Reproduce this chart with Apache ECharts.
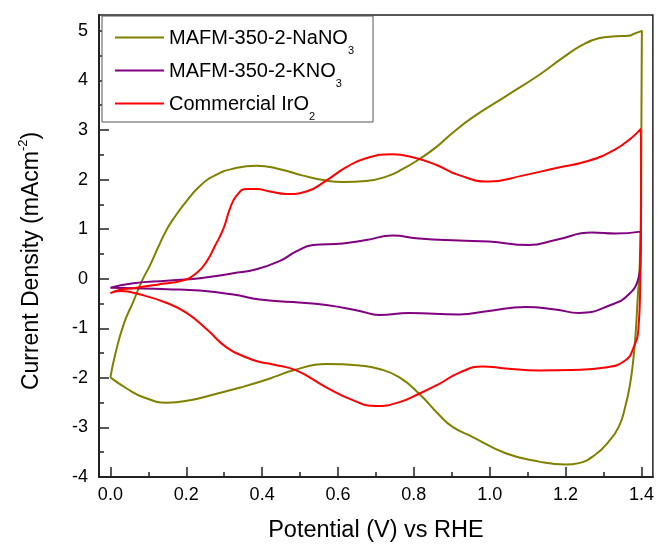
<!DOCTYPE html>
<html>
<head>
<meta charset="utf-8">
<script src="https://cdn.jsdelivr.net/npm/echarts@6.0.0/dist/echarts.min.js"></script>
<style>
    html, body { margin: 0; padding: 0; background: #fff; }
    #cv { width: 657px; height: 548px; }
</style>
</head>
<body>
<div id="cv"></div>
<script>
// 图例名称
var names = ['MAFM-350-2-NaNO3', 'MAFM-350-2-KNO3', 'Commercial IrO2'];
var colors = ['#808000', '#800080', '#ff0000'];

// 坐标轴刻度
var xTicks = [0, 0.2, 0.4, 0.6, 0.8, 1.0, 1.2, 1.4];
var xMinorTicks = [0.1, 0.3, 0.5, 0.7, 0.9, 1.1, 1.3];
var yTicks = [-4, -3, -2, -1, 0, 1, 2, 3, 4, 5];
var yMinorTicks = [-3.5, -2.5, -1.5, -0.5, 0.5, 1.5, 2.5, 3.5, 4.5];

// NaNO3: 正扫 / 回扫
var naForward = [[0, -1.99], [0.013, -1.52], [0.035, -0.92], [0.061, -0.45], [0.083, -0.05], [0.105, 0.28],
    [0.125, 0.62], [0.149, 1.0], [0.172, 1.27], [0.193, 1.49], [0.236, 1.87], [0.28, 2.1], [0.324, 2.22],
    [0.385, 2.28], [0.447, 2.21], [0.508, 2.08], [0.569, 1.98], [0.613, 1.95], [0.674, 1.97], [0.727, 2.06],
    [0.77, 2.21], [0.814, 2.41], [0.858, 2.65], [0.9, 2.93], [0.954, 3.25], [1.042, 3.68], [1.13, 4.11],
    [1.191, 4.45], [1.243, 4.71], [1.287, 4.85], [1.331, 4.89], [1.366, 4.9], [1.383, 4.95], [1.401, 5.0]];
var naReverse = [[1.4, 3.5], [1.398, 1.0], [1.395, 0.2], [1.39, -0.39], [1.385, -1.05], [1.379, -1.59],
    [1.37, -2.12], [1.357, -2.59], [1.34, -2.99], [1.313, -3.29], [1.278, -3.55], [1.235, -3.72], [1.2, -3.75],
    [1.13, -3.69], [1.042, -3.52], [0.954, -3.19], [0.902, -2.99], [0.867, -2.75], [0.814, -2.32],
    [0.762, -1.99], [0.709, -1.82], [0.657, -1.75], [0.569, -1.72], [0.481, -1.85], [0.44, -1.96],
    [0.394, -2.08], [0.34, -2.2], [0.28, -2.32], [0.21, -2.45], [0.149, -2.5], [0.087, -2.39],
    [0.044, -2.22], [0, -1.99]];

// KNO3
var kForward = [[0, -0.18], [0.061, -0.09], [0.149, -0.04], [0.236, 0.01], [0.324, 0.11], [0.385, 0.19],
    [0.447, 0.36], [0.49, 0.55], [0.534, 0.68], [0.613, 0.71], [0.674, 0.78], [0.744, 0.87], [0.814, 0.81],
    [0.919, 0.77], [0.998, 0.75], [1.103, 0.68], [1.173, 0.78], [1.27, 0.93], [1.331, 0.91], [1.398, 0.95]];
var kReverse = [[1.397, 0.3], [1.392, 0.01], [1.366, -0.32], [1.322, -0.52], [1.235, -0.69], [1.173, -0.62],
    [1.094, -0.57], [0.998, -0.65], [0.919, -0.72], [0.788, -0.69], [0.709, -0.73], [0.657, -0.65],
    [0.569, -0.53], [0.481, -0.47], [0.394, -0.42], [0.324, -0.32], [0.236, -0.24], [0.149, -0.21],
    [0.061, -0.19], [0, -0.18]];

// IrO2
var irForward = [[0, -0.29], [0.026, -0.22], [0.061, -0.19], [0.123, -0.12], [0.193, -0.03], [0.228, 0.12],
    [0.254, 0.35], [0.275, 0.65], [0.298, 1.01], [0.315, 1.41], [0.333, 1.68], [0.359, 1.81], [0.385, 1.81],
    [0.42, 1.76], [0.464, 1.71], [0.517, 1.76], [0.569, 1.98], [0.622, 2.25], [0.674, 2.43], [0.744, 2.51],
    [0.797, 2.45], [0.858, 2.3], [0.919, 2.09], [0.998, 1.96], [1.086, 2.08], [1.173, 2.23], [1.261, 2.38],
    [1.331, 2.61], [1.375, 2.85], [1.398, 3.02]];
var irReverse = [[1.399, 1.5], [1.397, 0], [1.392, -1.0], [1.379, -1.39], [1.357, -1.65], [1.305, -1.79],
    [1.217, -1.84], [1.13, -1.85], [1.042, -1.81], [0.981, -1.77], [0.919, -1.9], [0.867, -2.12],
    [0.814, -2.32], [0.762, -2.49], [0.7, -2.57], [0.639, -2.45], [0.569, -2.19], [0.49, -1.85],
    [0.429, -1.73], [0.394, -1.68], [0.359, -1.59], [0.307, -1.39], [0.254, -1.02], [0.201, -0.69],
    [0.149, -0.49], [0.079, -0.32], [0.026, -0.25], [0, -0.29]];

var loops = [naForward.concat(naReverse), kForward.concat(kReverse), irForward.concat(irReverse)];

var font = 'Liberation Sans, Arial, sans-serif';
var xMin = -0.03, xMax = 1.43, yMin = -4, yMax = 5.32;

var myChart = echarts.init(document.getElementById('cv'));

var series = [];
for (var i = 0; i < names.length; i++) {
    series.push({
        name: names[i],
        type: 'line',
        data: loops[i],
        symbol: 'none',
        smooth: 0.5,
        color: colors[i],
        lineStyle: { width: 2, color: colors[i] },
        emphasis: { disabled: true }
    });
}

var option = {
    animation: false,
    grid: {
        left: 99, right: 3, top: 15, bottom: 67,
        show: true, borderColor: '#222', borderWidth: 1.5
    },
    legend: {
        data: names,
        orient: 'vertical',
        left: 102,
        top: 16,
        padding: [12, 19, 0, 13],
        itemGap: 5,
        itemWidth: 49,
        itemHeight: 2,
        icon: 'rect',
        borderColor: '#555',
        borderWidth: 1,
        backgroundColor: '#fff',
        selectedMode: false,
        formatter: function (name) {
            return '{n|' + name.slice(0, -1) + '}{s|' + name.slice(-1) + '}';
        },
        textStyle: {
            rich: {
                n: { fontSize: 20, lineHeight: 19, fontFamily: font, color: '#000', verticalAlign: 'top' },
                s: { fontSize: 11, lineHeight: 11, fontFamily: font, color: '#000', verticalAlign: 'top', padding: [17, 0, 0, 0] }
            }
        }
    },
    xAxis: [{
        type: 'value',
        min: xMin, max: xMax,
        name: 'Potential (V) vs RHE',
        nameLocation: 'middle',
        nameGap: 42,
        nameTextStyle: { fontSize: 23.5, fontFamily: font, color: '#000' },
        axisLine: { onZero: false, lineStyle: { color: '#222', width: 2 } },
        axisTick: { inside: true, length: 10, customValues: xTicks, lineStyle: { color: '#222', width: 1.5 } },
        axisLabel: {
            customValues: xTicks, margin: 9, fontSize: 18, fontFamily: font, color: '#000',
            formatter: function (v) { return v.toFixed(1); }
        },
        splitLine: { show: false }
    }, {
        type: 'value',
        min: xMin, max: xMax,
        position: 'bottom',
        axisLine: { show: false, onZero: false },
        axisTick: { inside: true, length: 5, customValues: xMinorTicks, lineStyle: { color: '#222', width: 1.5 } },
        axisLabel: { show: false },
        splitLine: { show: false }
    }],
    yAxis: [{
        type: 'value',
        min: yMin, max: yMax,
        name: '{a|Current Density (mAcm}{b|-2}{a|)}',
        nameLocation: 'middle',
        nameGap: 56,
        nameTextStyle: {
            padding: [0, 30, 0, 0],
            rich: {
                a: { fontSize: 23, lineHeight: 26, fontFamily: font, color: '#000', verticalAlign: 'bottom' },
                b: { fontSize: 13, lineHeight: 13, fontFamily: font, color: '#000', verticalAlign: 'top' }
            }
        },
        axisLine: { onZero: false, lineStyle: { color: '#222', width: 2 } },
        axisTick: { inside: true, length: 10, customValues: yTicks, lineStyle: { color: '#222', width: 1.5 } },
        axisLabel: { customValues: yTicks, margin: 11, fontSize: 18, fontFamily: font, color: '#000' },
        splitLine: { show: false }
    }, {
        type: 'value',
        min: yMin, max: yMax,
        position: 'left',
        axisLine: { show: false, onZero: false },
        axisTick: { inside: true, length: 5, customValues: yMinorTicks, lineStyle: { color: '#222', width: 1.5 } },
        axisLabel: { show: false },
        splitLine: { show: false }
    }],
    series: series
};

myChart.setOption(option);
</script>
</body>
</html>
